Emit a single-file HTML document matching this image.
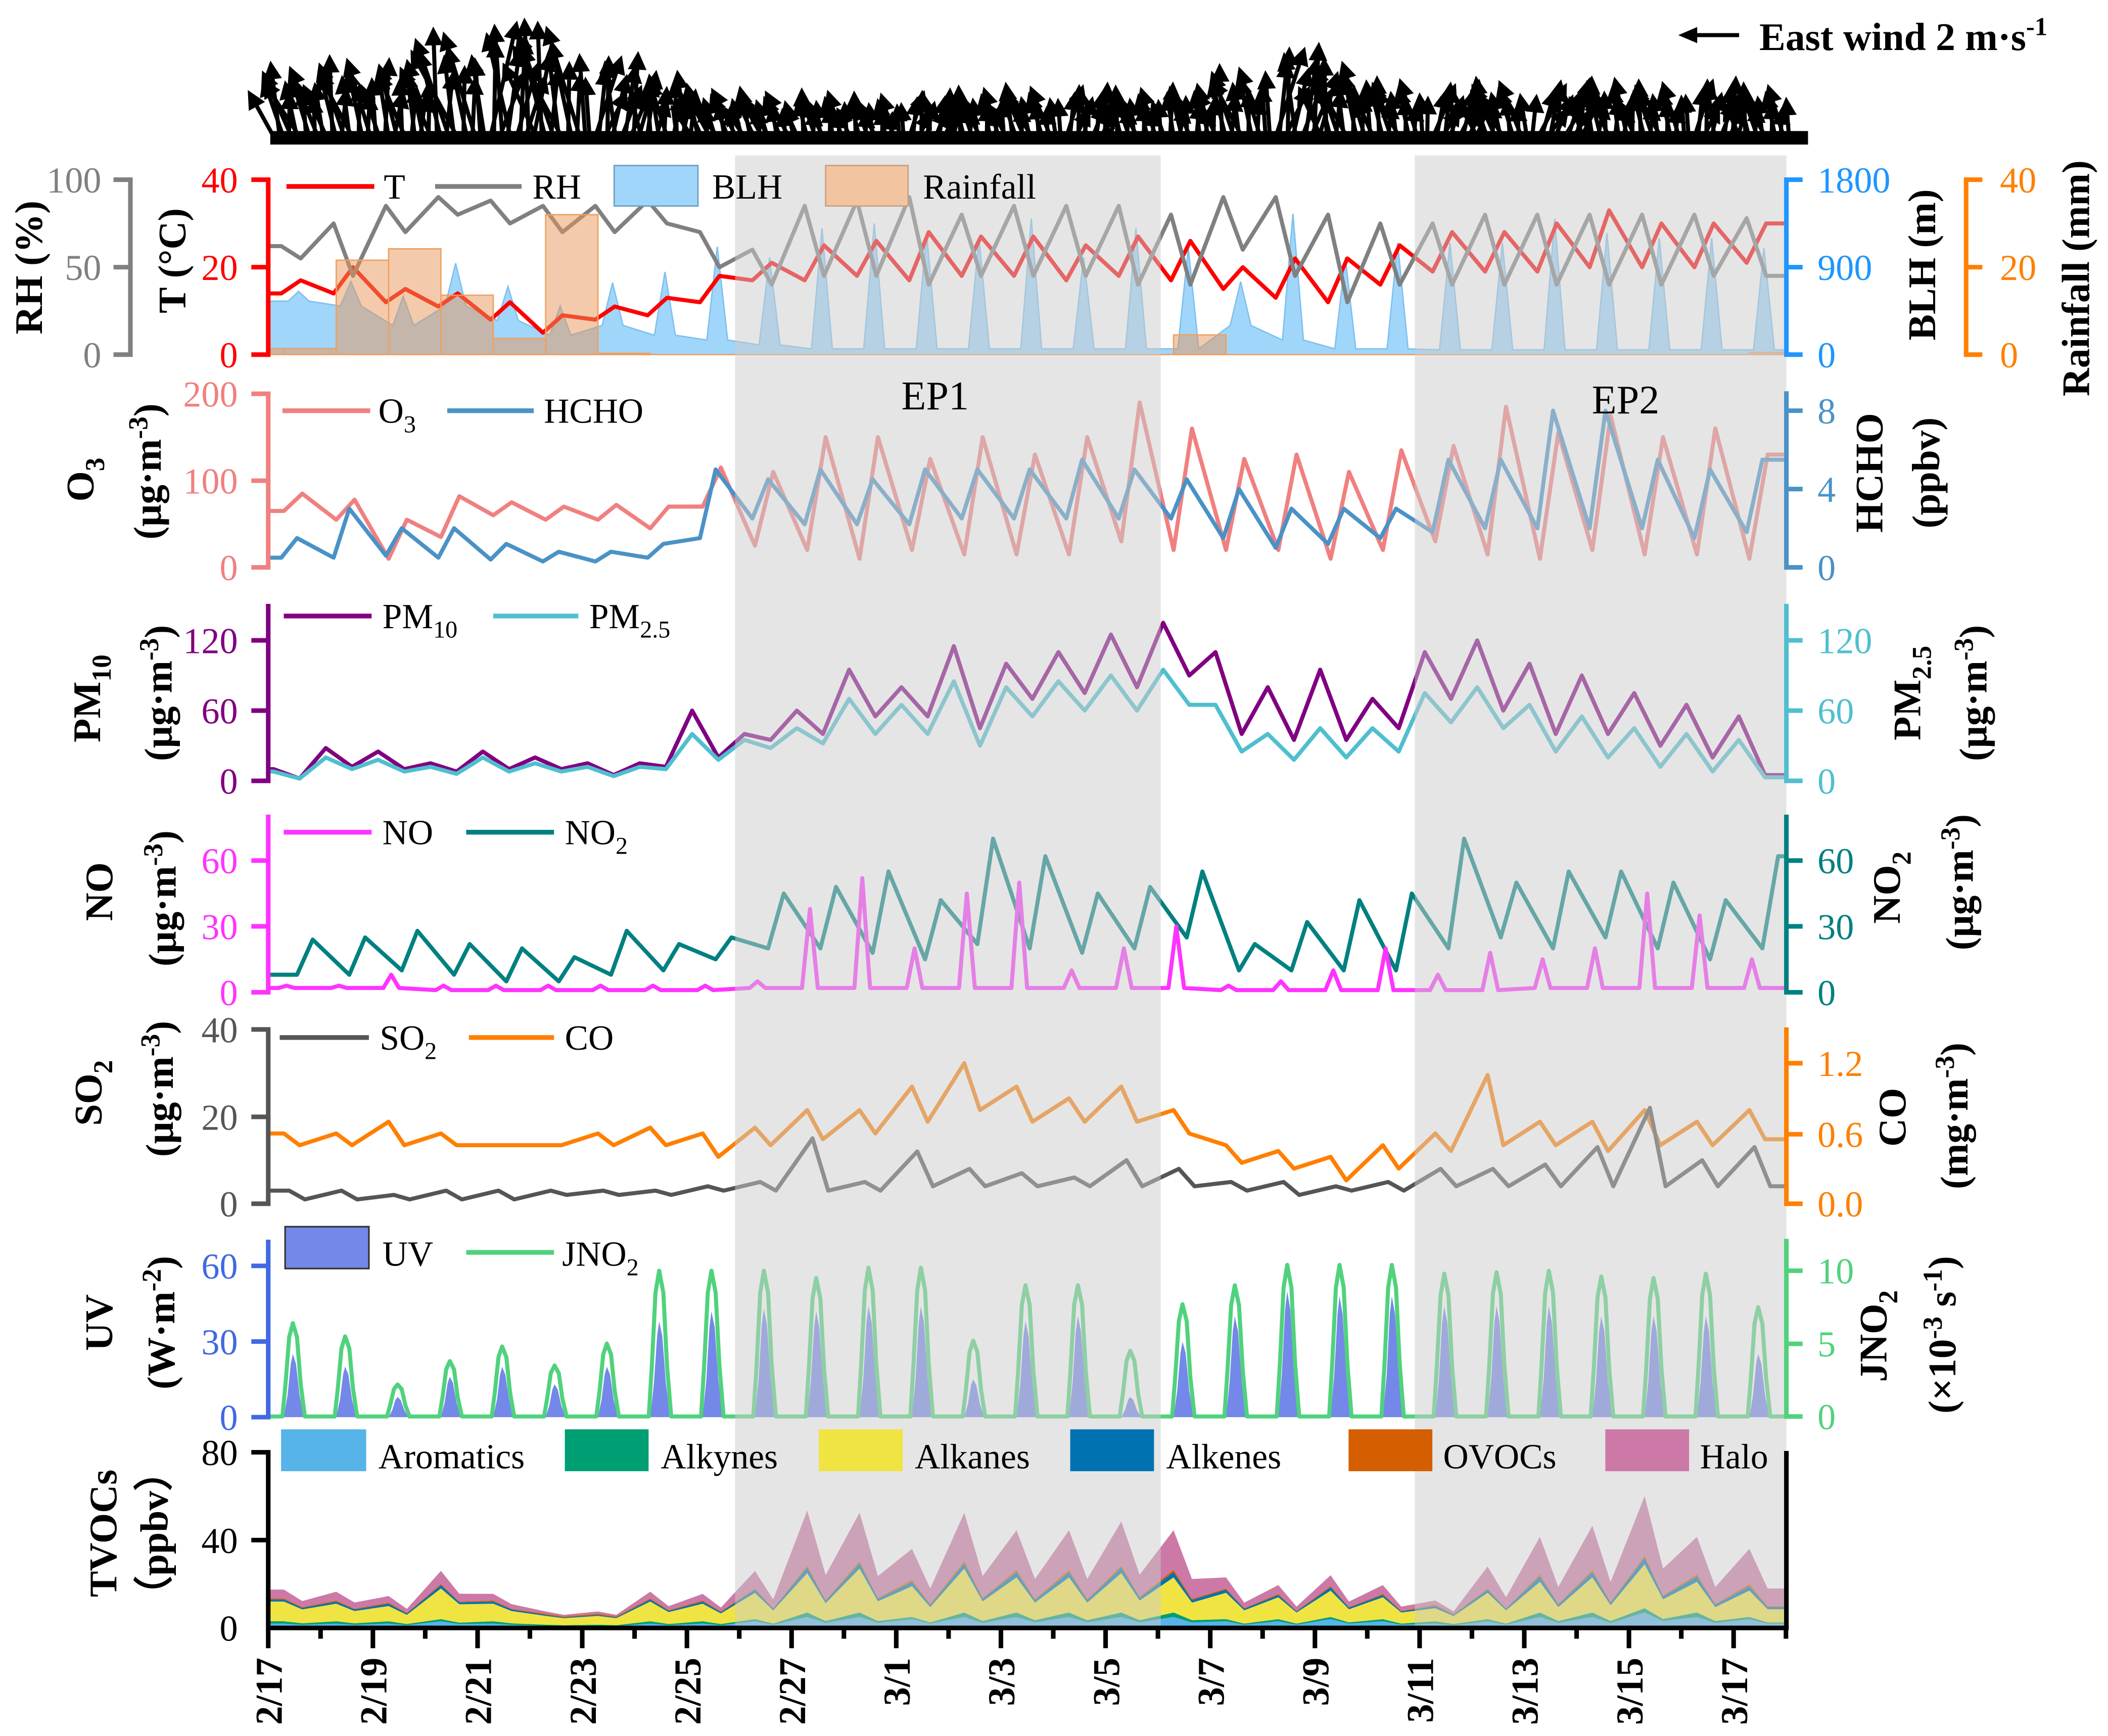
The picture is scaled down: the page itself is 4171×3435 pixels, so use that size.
<!DOCTYPE html>
<html><head><meta charset="utf-8"><style>
html,body{margin:0;padding:0;background:#fff;}
svg{display:block;font-family:"Liberation Serif",serif;}
.tl{font-size:27px;}
.tt{font-size:29px;font-weight:bold;}
.lg{font-size:26px;}
</style></head><body>
<svg id="chart" xmlns="http://www.w3.org/2000/svg" width="4171" height="3435" viewBox="0 0 1560 1285" preserveAspectRatio="none">
<rect x="0" y="0" width="1560" height="1285" fill="#fff"/>
<g id="wind"></g>
<g id="data"></g>
<g>
<rect x="544" y="115" width="315" height="1090" fill="#cccccc" opacity="0.5"/>
<rect x="1047" y="115" width="275" height="1090" fill="#cccccc" opacity="0.5"/>
</g>
<text x="692" y="303" font-size="30" text-anchor="middle">EP1</text>
<text x="1203" y="306" font-size="30" text-anchor="middle">EP2</text>

<g>
<line x1="1287" y1="26" x2="1252" y2="26" stroke="#000" stroke-width="3"/>
<path d="M1242,26 L1256,20 L1256,32 Z" fill="#000"/>
<text x="1302" y="37" font-size="29" font-weight="bold">East wind 2 m·s<tspan dy="-11" font-size="19">-1</tspan></text>
</g>

<g fill="none">
<path d="M84,133H96.5V262.5H84M84,197.75H96.5" stroke="#808080" stroke-width="3.4"/>
<path d="M186,133H198.5V262.5H186M186,197.75H198.5" stroke="#ff0000" stroke-width="3.4"/>
<path d="M1334,133H1322V262.5H1334M1322,197.75H1334" stroke="#1e96ff" stroke-width="3.4"/>
<path d="M1467,133H1455V262.5H1467M1455,197.75H1467" stroke="#ff7f00" stroke-width="3.4"/>
</g>
<g class="tl" text-anchor="end" fill="#808080">
<text x="75" y="142.5">100</text><text x="75" y="207.2">50</text><text x="75" y="272">0</text></g>
<g class="tl" text-anchor="end" fill="#ff0000">
<text x="176" y="142.5">40</text><text x="176" y="207.2">20</text><text x="176" y="272">0</text></g>
<g class="tl" fill="#1e96ff">
<text x="1345" y="142.5">1800</text><text x="1345" y="207.2">900</text><text x="1345" y="272">0</text></g>
<g class="tl" fill="#ff7f00">
<text x="1480" y="142.5">40</text><text x="1480" y="207.2">20</text><text x="1480" y="272">0</text></g>
<text class="tt" transform="translate(31,198) rotate(-90)" text-anchor="middle">RH (%)</text>
<text class="tt" transform="translate(137,193) rotate(-90)" text-anchor="middle">T (°C)</text>
<text class="tt" transform="translate(1432,196) rotate(-90)" text-anchor="middle">BLH (m)</text>
<text class="tt" transform="translate(1546,206) rotate(-90)" text-anchor="middle">Rainfall (mm)</text>
<g>
<line x1="212" y1="138" x2="277" y2="138" stroke="#ff0000" stroke-width="3.5"/><text class="lg" x="284" y="147">T</text>
<line x1="322" y1="138" x2="386" y2="138" stroke="#808080" stroke-width="3.5"/><text class="lg" x="394" y="147">RH</text>
<rect x="454.5" y="122.5" width="62" height="30" fill="#a0d6fa" stroke="#6a9fc0" stroke-width="1"/><text class="lg" x="527" y="147">BLH</text>
<rect x="611" y="122.5" width="61" height="30" fill="#f2c4a0" stroke="#c8a080" stroke-width="1"/><text class="lg" x="683" y="147">Rainfall</text>
</g>

<path d="M186,291.5H198.5V420H186M186,355.8H198.5" stroke="#f08080" stroke-width="3.4" fill="none"/>
<path d="M1322,289.6V420H1334M1322,304H1334M1322,362H1334" stroke="#4a92c6" stroke-width="3.4" fill="none"/>
<g class="tl" text-anchor="end" fill="#f08080"><text x="176" y="301">200</text><text x="176" y="365.3">100</text><text x="176" y="429.5">0</text></g>
<g class="tl" fill="#4a92c6"><text x="1345" y="313.5">8</text><text x="1345" y="371.5">4</text><text x="1345" y="429.5">0</text></g>
<text class="tt" transform="translate(69,355) rotate(-90)" text-anchor="middle">O<tspan dy="8" font-size="20">3</tspan></text>
<text class="tt" transform="translate(119,349) rotate(-90)" text-anchor="middle">(μg·m<tspan dy="-10" font-size="20">-3</tspan><tspan dy="10">)</tspan></text>
<text class="tt" transform="translate(1393,350) rotate(-90)" text-anchor="middle">HCHO</text>
<text class="tt" transform="translate(1435,350) rotate(-90)" text-anchor="middle">(ppbv)</text>
<g>
<line x1="209" y1="304" x2="274" y2="304" stroke="#f08080" stroke-width="3.5"/><text class="lg" x="280" y="313">O<tspan dy="7" font-size="18">3</tspan></text>
<line x1="331" y1="304" x2="395" y2="304" stroke="#4a92c6" stroke-width="3.5"/><text class="lg" x="402.5" y="313">HCHO</text>
</g>

<path d="M198.5,447V578H186M186,474H198.5M186,526H198.5" stroke="#800080" stroke-width="3.4" fill="none"/>
<path d="M1322,447V578H1334M1322,474H1334M1322,526H1334" stroke="#4fbfcf" stroke-width="3.4" fill="none"/>
<g class="tl" text-anchor="end" fill="#800080"><text x="176" y="483.5">120</text><text x="176" y="535.5">60</text><text x="176" y="587.5">0</text></g>
<g class="tl" fill="#4fbfcf"><text x="1345" y="483.5">120</text><text x="1345" y="535.5">60</text><text x="1345" y="587.5">0</text></g>
<text class="tt" transform="translate(74,517) rotate(-90)" text-anchor="middle">PM<tspan dy="8" font-size="20">10</tspan></text>
<text class="tt" transform="translate(127,513) rotate(-90)" text-anchor="middle">(μg·m<tspan dy="-10" font-size="20">-3</tspan><tspan dy="10">)</tspan></text>
<text class="tt" transform="translate(1421,513) rotate(-90)" text-anchor="middle">PM<tspan dy="8" font-size="20">2.5</tspan></text>
<text class="tt" transform="translate(1470,513) rotate(-90)" text-anchor="middle">(μg·m<tspan dy="-10" font-size="20">-3</tspan><tspan dy="10">)</tspan></text>
<g>
<line x1="210" y1="456" x2="275" y2="456" stroke="#800080" stroke-width="3.5"/><text class="lg" x="283" y="465">PM<tspan dy="7" font-size="18">10</tspan></text>
<line x1="365" y1="456" x2="428" y2="456" stroke="#4fbfcf" stroke-width="3.5"/><text class="lg" x="436" y="465">PM<tspan dy="7" font-size="18">2.5</tspan></text>
</g>

<path d="M198.5,603V734.5H186M186,637H198.5M186,685.7H198.5" stroke="#ff33ff" stroke-width="3.4" fill="none"/>
<path d="M1322,603V734.5H1334M1322,637H1334M1322,685.7H1334" stroke="#008080" stroke-width="3.4" fill="none"/>
<g class="tl" text-anchor="end" fill="#ff33ff"><text x="176" y="646.5">60</text><text x="176" y="695.2">30</text><text x="176" y="744">0</text></g>
<g class="tl" fill="#008080"><text x="1345" y="646.5">60</text><text x="1345" y="695.2">30</text><text x="1345" y="744">0</text></g>
<text class="tt" transform="translate(83,660) rotate(-90)" text-anchor="middle">NO</text>
<text class="tt" transform="translate(130,665) rotate(-90)" text-anchor="middle">(μg·m<tspan dy="-10" font-size="20">-3</tspan><tspan dy="10">)</tspan></text>
<text class="tt" transform="translate(1406,657) rotate(-90)" text-anchor="middle">NO<tspan dy="8" font-size="20">2</tspan></text>
<text class="tt" transform="translate(1460,653) rotate(-90)" text-anchor="middle">(μg·m<tspan dy="-10" font-size="20">-3</tspan><tspan dy="10">)</tspan></text>
<g>
<line x1="210" y1="616" x2="275" y2="616" stroke="#ff33ff" stroke-width="3.5"/><text class="lg" x="283" y="625">NO</text>
<line x1="345" y1="616" x2="410" y2="616" stroke="#008080" stroke-width="3.5"/><text class="lg" x="418" y="625">NO<tspan dy="7" font-size="18">2</tspan></text>
</g>

<path d="M186,762H198.5V891H186M186,826.7H198.5" stroke="#555555" stroke-width="3.4" fill="none"/>
<path d="M1322,760.5V891H1334M1322,787H1334M1322,839.6H1334" stroke="#ff7f00" stroke-width="3.4" fill="none"/>
<g class="tl" text-anchor="end" fill="#555555"><text x="176" y="771.5">40</text><text x="176" y="836.2">20</text><text x="176" y="900.5">0</text></g>
<g class="tl" fill="#ff7f00"><text x="1345" y="796.5">1.2</text><text x="1345" y="849">0.6</text><text x="1345" y="900.5">0.0</text></g>
<text class="tt" transform="translate(75,809) rotate(-90)" text-anchor="middle">SO<tspan dy="8" font-size="20">2</tspan></text>
<text class="tt" transform="translate(128,806) rotate(-90)" text-anchor="middle">(μg·m<tspan dy="-10" font-size="20">-3</tspan><tspan dy="10">)</tspan></text>
<text class="tt" transform="translate(1410,827) rotate(-90)" text-anchor="middle">CO</text>
<text class="tt" transform="translate(1456,826) rotate(-90)" text-anchor="middle">(mg·m<tspan dy="-10" font-size="20">-3</tspan><tspan dy="10">)</tspan></text>
<g>
<line x1="207" y1="768" x2="273" y2="768" stroke="#555555" stroke-width="3.5"/><text class="lg" x="281" y="777">SO<tspan dy="7" font-size="18">2</tspan></text>
<line x1="347" y1="768" x2="410" y2="768" stroke="#ff7f00" stroke-width="3.5"/><text class="lg" x="418" y="777">CO</text>
</g>

<path d="M198.5,917.6V1049H186M186,937H198.5M186,993H198.5" stroke="#4169e1" stroke-width="3.4" fill="none"/>
<path d="M1322,917V1048.5H1334M1322,940.6H1334M1322,994.7H1334" stroke="#50d27d" stroke-width="3.4" fill="none"/>
<g class="tl" text-anchor="end" fill="#4169e1"><text x="176" y="946.5">60</text><text x="176" y="1002.5">30</text><text x="176" y="1058.5">0</text></g>
<g class="tl" fill="#50d27d"><text x="1345" y="950">10</text><text x="1345" y="1004">5</text><text x="1345" y="1058">0</text></g>
<text class="tt" transform="translate(83,979) rotate(-90)" text-anchor="middle">UV</text>
<text class="tt" transform="translate(129,979) rotate(-90)" text-anchor="middle">(W·m<tspan dy="-10" font-size="20">-2</tspan><tspan dy="10">)</tspan></text>
<text class="tt" transform="translate(1396,989) rotate(-90)" text-anchor="middle">JNO<tspan dy="8" font-size="20">2</tspan></text>
<text class="tt" transform="translate(1447,988) rotate(-90)" text-anchor="middle">(×10<tspan dy="-10" font-size="20">-3</tspan><tspan dy="10"> s</tspan><tspan dy="-10" font-size="20">-1</tspan><tspan dy="10">)</tspan></text>
<g>
<rect x="211" y="908" width="62" height="31" fill="#7388e8" stroke="#333" stroke-width="1.2"/><text class="lg" x="283" y="937">UV</text>
<line x1="345" y1="927" x2="410" y2="927" stroke="#50d27d" stroke-width="3.5"/><text class="lg" x="416" y="937">JNO<tspan dy="7" font-size="18">2</tspan></text>
</g>

<path d="M186,1075H198.5V1205M186,1140H198.5" stroke="#000" stroke-width="3.4" fill="none"/>
<line x1="1322" y1="1074" x2="1322" y2="1205" stroke="#000" stroke-width="3.4"/>
<g class="tl" text-anchor="end" fill="#000"><text x="176" y="1084.5">80</text><text x="176" y="1149.5">40</text><text x="176" y="1214.5">0</text></g>
<text class="tt" transform="translate(86,1135) rotate(-90)" text-anchor="middle">TVOCs</text>
<text class="tt" transform="translate(124,1135) rotate(-90)" text-anchor="middle">（ppbv）</text>
<g class="lg">
<rect x="208" y="1058" width="63" height="31" fill="#56b4e9"/><text x="280" y="1087">Aromatics</text>
<rect x="418" y="1058" width="62" height="31" fill="#009e73"/><text x="489" y="1087">Alkynes</text>
<rect x="606" y="1058" width="62" height="31" fill="#f0e442"/><text x="677" y="1087">Alkanes</text>
<rect x="792" y="1058" width="62" height="31" fill="#0072b2"/><text x="863" y="1087">Alkenes</text>
<rect x="998" y="1058" width="62" height="31" fill="#d55e00"/><text x="1068" y="1087">OVOCs</text>
<rect x="1188" y="1058" width="62" height="31" fill="#cc79a7"/><text x="1258" y="1087">Halo</text>
</g>
<line x1="197" y1="1205" x2="1323.7" y2="1205" stroke="#000" stroke-width="3.4"/>
<g id="xticks"></g>
</svg>
<script>
// ---------------- data (one value per day, 2/17 .. 3/17) ----------------
const dateLabels = ["2/17","2/19","2/21","2/23","2/25","2/27","3/1","3/3","3/5","3/7","3/9","3/11","3/13","3/15","3/17"];
const dateLabelDays = [0,2,4,6,8,10,12,14,16,18,20,22,24,26,28];
const windSpeed = [2.5,2.7,2.6,3.6,3.9,3.8,2.8,2.2,1.8,1.7,1.6,1.5,1.6,1.7,1.8,1.8,1.7,1.8,2.4,3.1,2.6,2.0,1.9,2.0,2.0,2.0,1.9,2.0,1.8];
const windDir = [-15,-10,-5,-10,5,-10,10,0,-20,-20,-10,-10,10,-10,-15,10,-10,-5,-10,10,-10,-10,15,-15,20,-5,-10,10,-10];
const tMin = [14,14,12,11,8,5,8,9,12,17,17,18,17,18,18,17,18,17,15,13,12,16,19,19,19,20,20,20,21];
const tMax = [17,20,15,14,12,9,11,13,18,21,25,26,28,27,27,25,27,26,20,22,22,25,28,28,30,33,30,30,30];
const rhMax = [62,75,85,90,88,85,85,88,70,60,85,88,90,80,85,85,85,80,90,90,80,75,75,80,80,80,80,80,78];
const rhMin = [55,45,70,80,75,70,70,75,50,40,45,45,40,45,45,45,40,40,60,45,30,40,40,40,40,40,40,45,45];
const blhMax = [650,750,600,940,700,500,740,850,1110,1000,1300,1350,1250,1200,1400,1000,1300,1100,750,1450,1000,1150,1150,1150,1400,1250,1200,1200,1100];
const blhMin = [550,500,300,500,350,200,300,200,150,100,60,60,60,60,60,60,60,60,300,150,60,60,50,50,50,50,50,50,50];
const rainfall = [1.4,1.4,21.6,24.2,13.6,3.7,32,0.3,0,0,0,0,0,0,0,0,0,0,4.5,0,0,0,0,0,0,0,0,0,0,0.5];
const o3Max = [85,78,55,82,75,70,72,70,115,110,150,150,125,150,130,150,190,160,125,130,110,135,140,185,155,175,150,160,130];
const o3Min = [65,55,10,35,60,55,55,45,70,25,20,10,20,15,15,15,30,20,20,20,10,20,30,15,10,20,15,15,10];
const hchoMax = [1.5,3,2,2,1.2,0.8,0.8,1.2,5,4.5,5,4.5,5,5,5,5.5,5,4.5,4,3,3,3,5.5,5.5,8,8,5.5,5,5.5];
const hchoMin = [0.5,0.5,0.6,0.5,0.4,0.3,0.3,0.5,1.5,2.5,2.2,2.2,2.2,2.5,2.5,2.5,2.5,2.5,1.5,1,1.2,1.5,1.8,2,2,2,2,1.5,1.8];
const pm10Max = [10,28,25,15,25,20,15,15,60,40,60,95,80,115,100,110,125,135,110,80,95,70,110,120,100,90,75,65,55];
const pm10Min = [2,12,10,8,10,10,5,12,20,35,40,55,55,45,70,75,80,90,40,35,35,45,70,60,40,40,30,20,5];
const pm25Max = [8,20,18,12,20,15,12,12,40,35,45,70,65,85,80,85,90,95,65,40,45,45,75,80,65,55,45,40,35];
const pm25Min = [2,10,8,6,8,8,4,10,18,28,32,40,40,30,55,60,60,65,25,18,20,25,50,45,25,20,12,8,3];
const noPeak = [3,3,8,3,3,3,3,3,3,5,38,52,20,45,50,10,20,30,3,5,10,20,8,18,15,20,45,35,15];
const noBase = [2,2,2,1,1,1,1,1,1,2,2,2,2,2,2,2,2,2,1,1,1,1,1,1,2,2,2,2,2];
const no2Max = [24,25,28,22,20,16,28,22,25,45,48,55,42,70,62,45,48,55,22,32,42,45,70,50,55,55,50,42,62];
const no2Min = [8,8,10,8,5,5,8,10,15,20,20,18,15,22,20,18,20,25,10,10,10,10,20,25,20,25,20,15,20];
const so2Max = [3,3,2,3,3,3,3,3,4,5,15,5,12,8,7,6,10,8,5,5,4,5,8,8,9,13,22,10,13];
const so2Min = [1,1,1,1,1,2,2,2,3,3,3,3,4,4,4,4,4,4,3,2,3,3,4,4,4,4,4,4,4];
const coMax = [0.6,0.6,0.7,0.6,0.5,0.5,0.6,0.65,0.6,0.65,0.8,0.8,1.0,1.2,1.0,0.9,1.0,0.8,0.5,0.45,0.4,0.5,0.6,1.1,0.7,0.7,0.8,0.7,0.8];
const coMin = [0.5,0.5,0.5,0.5,0.5,0.5,0.5,0.5,0.4,0.5,0.55,0.6,0.7,0.8,0.7,0.7,0.7,0.6,0.35,0.3,0.2,0.3,0.45,0.5,0.5,0.45,0.5,0.5,0.55];
const uvPeak = [25,20,8,16,20,13,20,38,42,43,42,44,44,15,38,40,8,30,40,50,48,48,44,44,44,40,40,40,25];
const jno2Peak = [6.4,5.5,2.2,3.8,4.8,3.5,5.0,10,10,10,9.5,10.2,10.2,5.2,9.0,9.0,4.5,7.7,9.0,10.4,10.4,10.4,9.8,9.9,10,9.6,9.5,9.8,7.5];
const vocAromatics = [2,2,2,3,2,1,1,2,2,3,5,5,4,5,5,5,5,5,3,3,4,3,2,3,5,5,7,5,4];
const vocAlkynes = [1,1,1,1,1,0.5,0.5,1,1,1,2,2,1,2,2,2,2,2,1,1,1,1,1,1,2,2,2,2,1];
const vocAlkanes = [9,8,7,14,8,4,4,9,8,12,18,20,14,20,16,16,18,16,12,10,12,10,6,12,14,16,20,14,12];
const vocAlkenes = [1,1,1,1.5,1,0.5,0.5,1,1,1.5,2.5,2.5,2,2.5,2.5,2.5,2.5,2.5,1.5,1,1.5,1,1,1.5,2.5,2.5,3,2.5,2];
const vocOVOCs = [0.5,0.5,0.5,0.5,0.5,0.5,0.5,0.5,0.5,0.5,1,1,1,1,1,1,1,1,0.5,0.5,0.5,0.5,0.5,0.5,1,1,1,1,1];
const vocHalo = [4,4,3,6,3,1,1,3,3,8,25,22,14,22,18,18,20,18,5,4,5,4,2,10,17,20,27,17,16];
const vocTroughRatio = [.7,.7,.6,.6,.7,.8,.8,.6,.6,.5,.45,.45,.5,.45,.5,.5,.5,.5,.5,.5,.5,.5,.6,.5,.45,.45,.45,.45,.5];

// ---------------- scales & helpers ----------------
const NS = 'http://www.w3.org/2000/svg';
const gData = document.getElementById('data');
const gWind = document.getElementById('wind');
const gTicks = document.getElementById('xticks');
const NDAYS = 29;
function X(d){ return 198.5 + 38.73*d; }
function lin(v0,v1,p0,p1){ return v => p0 + (v-v0)*(p1-p0)/(v1-v0); }
const yT = lin(0,40,262.5,133), yRH = lin(0,100,262.5,133), yBLH = lin(0,1800,262.5,133), yRain = lin(0,40,262.5,133);
const yO3 = lin(0,200,420,291.5), yHCHO = lin(0,8,420,304);
const yPM10 = lin(0,120,578,474), yPM25 = lin(0,120,578,474);
const yNO = lin(0,60,734.5,637), yNO2 = lin(0,60,734.5,637);
const ySO2 = lin(0,40,891,762), yCO = lin(0,1.2,891,787);
const yUV = lin(0,60,1049,937), yJNO2 = lin(0,10,1048.5,940.6);
const yVOC = lin(0,80,1205,1075);
function mk(tag,parent){ const e=document.createElementNS(NS,tag); parent.appendChild(e); return e; }
function extend(p){ const a=p.slice(); a.unshift([0,p[0][1]]); a.push([NDAYS,p[p.length-1][1]]); return a; }
function diurnal(lo,hi,tLo,tHi){ const p=[]; for(let d=0; d<lo.length; d++){ const a=[[d+tLo,lo[d]],[d+tHi,hi[d]]]; a.sort((u,v)=>u[0]-v[0]); p.push(a[0],a[1]); } return extend(p); }
function pathOf(pts,ys){ return 'M'+pts.map(q=>X(q[0]).toFixed(1)+','+ys(q[1]).toFixed(1)).join('L'); }
function drawLine(pts,ys,color,w,name,op){
  const e=mk('path',gData);
  e.setAttribute('d',pathOf(pts,ys)); e.setAttribute('fill','none'); e.setAttribute('stroke',color);
  e.setAttribute('stroke-width',w); e.setAttribute('stroke-linejoin','round');
  if(op) e.setAttribute('opacity',op);
  
  
}
function drawArea(pts,ys,base,fill,stroke,name,op){
  const e=mk('path',gData);
  e.setAttribute('d',pathOf(pts,ys)+'L'+X(pts[pts.length-1][0]).toFixed(1)+','+base+'L'+X(pts[0][0]).toFixed(1)+','+base+'Z');
  e.setAttribute('fill',fill); if(stroke){e.setAttribute('stroke',stroke); e.setAttribute('stroke-width','1');}
  if(op) e.setAttribute('opacity',op);
  
  
}

// ---------------- wind ----------------
const jitterAng = [-14,8,-4,16,-9,3,-18,11,-2,13,-7,6];
const jitterLen = [0.7,1,0.82,0.6,0.95,0.75,0.9,0.65,0.85,0.55,1,0.72];
const band = mk('rect',gWind);
band.setAttribute('x','200'); band.setAttribute('y','97'); band.setAttribute('width','1138'); band.setAttribute('height','10'); band.setAttribute('fill','#000');


for(let d=0; d<windSpeed.length; d++){
  for(let k=0;k<12;k++){
    const x = X(d+(k+0.5)/12)+4;
    const ang = (windDir[d]+jitterAng[k])*Math.PI/180;
    const L = windSpeed[d]*jitterLen[k]*22.5;
    const x2 = x+L*Math.sin(ang), y2 = 104-L*Math.cos(ang);
    const ux=Math.sin(ang), uy=-Math.cos(ang);
    const a = mk('path',gWind);
    const hx=x2-9*ux, hy=y2-9*uy;
    a.setAttribute('d',`M${x.toFixed(1)},104L${hx.toFixed(1)},${hy.toFixed(1)}M${x2.toFixed(1)},${y2.toFixed(1)}L${(hx-4.5*uy).toFixed(1)},${(hy+4.5*ux).toFixed(1)}L${(hx+4.5*uy).toFixed(1)},${(hy-4.5*ux).toFixed(1)}Z`);
    a.setAttribute('stroke','#000'); a.setAttribute('stroke-width','3'); a.setAttribute('fill','#000');
    
    
  }
}

// ---------------- panel 1 ----------------
const blhPts=[]; for(let d=0; d<blhMax.length; d++){ blhPts.push([d+0.38,blhMin[d]],[d+0.58,blhMax[d]],[d+0.78,blhMin[d]]); }
drawArea(extend(blhPts),yBLH,262.5,'#a0d6fa','#7fc0ee','blh-area');
drawLine(diurnal(tMin,tMax,0.25,0.62),yT,'#ff0000',3,'t-line');
drawLine(diurnal(rhMin,rhMax,0.62,0.25),yRH,'#808080',3,'rh-line');
let rp='';
for(let i=0;i<rainfall.length;i++){
  const x0=X(Math.max(0,i-0.7)), x1=X(Math.min(NDAYS,i+0.3));
  if(x1<=x0) continue;
  rp += `M${x0.toFixed(1)},262.5V${yRain(rainfall[i]).toFixed(1)}H${x1.toFixed(1)}V262.5Z`;
}
const rainEl = mk('path',gData);
rainEl.setAttribute('d',rp); rainEl.setAttribute('fill','#e8955a'); rainEl.setAttribute('fill-opacity','0.5'); rainEl.setAttribute('stroke','#f0a060'); rainEl.setAttribute('stroke-width','1');



// ---------------- panel 2-5 ----------------
drawLine(diurnal(o3Min,o3Max,0.3,0.65),yO3,'#f08080',3,'o3-line');
drawLine(diurnal(hchoMin,hchoMax,0.25,0.55),yHCHO,'#4a92c6',3,'hcho-line');
drawLine(diurnal(pm10Min,pm10Max,0.6,0.1),yPM10,'#800080',3,'pm10-line');
drawLine(diurnal(pm25Min,pm25Max,0.6,0.1),yPM25,'#4fbfcf',3,'pm25-line');
drawLine(diurnal(no2Min,no2Max,0.55,0.85),yNO2,'#008080',3,'no2-line');
const noPts=[]; for(let d=0; d<noPeak.length; d++){ noPts.push([d+0.2,noBase[d]],[d+0.35,noPeak[d]],[d+0.5,noBase[d]]); }
drawLine(extend(noPts),yNO,'#ff33ff',3,'no-line');
drawLine(diurnal(coMin,coMax,0.6,0.3),yCO,'#ff7f00',3,'co-line');
drawLine(diurnal(so2Min,so2Max,0.7,0.4),ySO2,'#555555',3,'so2-line');

// ---------------- panel 6 ----------------
const uvT=[0.3,0.37,0.43,0.47,0.53,0.6,0.68], uvF=[0,0.35,0.85,1,0.85,0.35,0];
const jT=[0.27,0.33,0.4,0.47,0.55,0.62,0.7], jF=[0,0.35,0.85,1,0.85,0.35,0];
const uvPts=[[0,0]], jPts=[[0,0]];
for(let d=0; d<uvPeak.length; d++){ for(let k=0;k<uvT.length;k++){ uvPts.push([d+uvT[k],uvPeak[d]*uvF[k]]); jPts.push([d+jT[k],jno2Peak[d]*jF[k]]); } }
uvPts.push([NDAYS,0]); jPts.push([NDAYS,0]);
drawArea(uvPts,yUV,1049,'#7388e8',null,'uv-area');
drawLine(jPts,yJNO2,'#50d27d',3,'jno2-line');

// ---------------- panel 7 (stacked) ----------------
const vocSeries=[vocAromatics,vocAlkynes,vocAlkanes,vocAlkenes,vocOVOCs,vocHalo];
const vocColors=['#56b4e9','#009e73','#f0e442','#0072b2','#d55e00','#cc79a7'];
const vocNames=['voc-aromatics-area','voc-alkynes-area','voc-alkanes-area','voc-alkenes-area','voc-ovocs-area','voc-halo-area'];
const tms=[]; for(let d=0; d<NDAYS; d++){ tms.push([d,0.3]); tms.push([d,0.65]); }
let lower = tms.map(()=>0);
vocSeries.forEach((s,si)=>{
  const upper = tms.map((t,i)=> lower[i] + s[t[0]]*(t[1]===0.3?1:vocTroughRatio[t[0]]));
  const up = tms.map((t,i)=>[t[0]+t[1],upper[i]]), lo = tms.map((t,i)=>[t[0]+t[1],lower[i]]);
  const U = extend(up), Lw = extend(lo).reverse();
  const e = mk('path',gData);
  e.setAttribute('d', pathOf(U,yVOC) + 'L' + Lw.map(q=>X(q[0]).toFixed(1)+','+yVOC(q[1]).toFixed(1)).join('L') + 'Z');
  e.setAttribute('fill', vocColors[si]);
  
  
  lower = upper;
});

// ---------------- x axis ticks ----------------
for(let d=0; d<=NDAYS; d++){
  const t = mk('line',gTicks);
  const major = d%2===0;
  t.setAttribute('x1',X(d)); t.setAttribute('x2',X(d)); t.setAttribute('y1','1205'); t.setAttribute('y2', major?'1220':'1213');
  t.setAttribute('stroke','#000'); t.setAttribute('stroke-width','3.4');
  
  
}
dateLabels.forEach((lab,i)=>{
  const t = mk('text',gTicks);
  t.setAttribute('transform',`translate(${(X(dateLabelDays[i])+10).toFixed(1)},1227) rotate(-90)`);
  t.setAttribute('text-anchor','end'); t.setAttribute('font-size','28'); t.setAttribute('font-weight','bold');
  t.textContent = lab;
  
  
});
</script>
</body></html>
